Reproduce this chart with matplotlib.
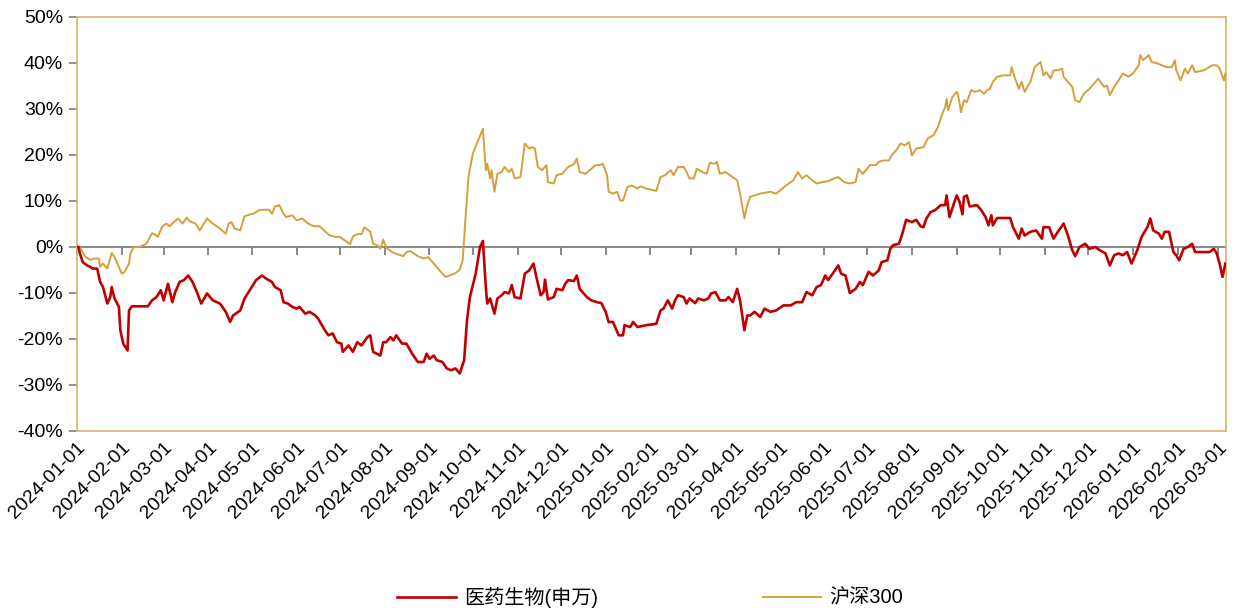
import matplotlib
matplotlib.use("Agg")
import matplotlib.pyplot as plt
from matplotlib.ticker import PercentFormatter, MultipleLocator
import pandas as pd

plt.rcParams['axes.unicode_minus'] = False
plt.rcParams['font.family'] = ['Liberation Sans', 'Noto Sans CJK SC', 'DejaVu Sans']

# cumulative return (%)
hs300 = [
    ("2024-01-02", 0.0), ("2024-01-03", -0.1), ("2024-01-07", -2.2), ("2024-01-10", -2.8),
    ("2024-01-13", -2.5), ("2024-01-16", -2.5), ("2024-01-17", -4.3), ("2024-01-19", -3.6),
    ("2024-01-22", -4.7), ("2024-01-25", -1.3), ("2024-01-27", -2.2), ("2024-01-30", -4.3),
    ("2024-02-01", -5.8), ("2024-02-03", -5.4), ("2024-02-06", -3.6), ("2024-02-07", -1.4),
    ("2024-02-09", -0.1), ("2024-02-14", 0.1), ("2024-02-18", 0.7), ("2024-02-22", 3.0),
    ("2024-02-24", 2.7), ("2024-02-26", 2.2), ("2024-02-29", 4.5), ("2024-03-03", 5.1),
    ("2024-03-05", 4.5), ("2024-03-08", 5.4), ("2024-03-11", 6.2), ("2024-03-14", 5.1),
    ("2024-03-17", 6.4), ("2024-03-19", 5.6), ("2024-03-23", 5.1), ("2024-03-26", 3.6),
    ("2024-03-31", 6.2), ("2024-04-04", 5.1), ("2024-04-09", 4.0), ("2024-04-13", 2.9),
    ("2024-04-15", 5.1), ("2024-04-17", 5.4), ("2024-04-19", 4.0), ("2024-04-23", 3.6),
    ("2024-04-26", 6.7), ("2024-04-30", 7.1), ("2024-05-02", 7.2), ("2024-05-06", 8.0),
    ("2024-05-09", 8.1), ("2024-05-13", 8.1), ("2024-05-15", 7.2), ("2024-05-17", 8.8),
    ("2024-05-20", 9.1), ("2024-05-23", 7.2), ("2024-05-25", 6.5), ("2024-05-29", 6.9),
    ("2024-06-01", 5.8), ("2024-06-05", 6.2), ("2024-06-09", 5.1), ("2024-06-13", 4.5),
    ("2024-06-17", 4.5), ("2024-06-21", 3.3), ("2024-06-24", 2.5), ("2024-06-28", 2.2),
    ("2024-07-01", 2.2), ("2024-07-05", 1.3), ("2024-07-08", 0.6), ("2024-07-10", 2.3),
    ("2024-07-13", 2.8), ("2024-07-16", 2.8), ("2024-07-18", 4.3), ("2024-07-22", 3.3),
    ("2024-07-24", 0.7), ("2024-07-27", 0.4), ("2024-07-29", -0.4), ("2024-07-31", 1.6),
    ("2024-08-02", -0.1), ("2024-08-06", -1.1), ("2024-08-10", -1.6), ("2024-08-14", -2.0),
    ("2024-08-16", -1.1), ("2024-08-19", -0.9), ("2024-08-21", -1.4), ("2024-08-24", -2.0),
    ("2024-08-28", -2.5), ("2024-08-31", -2.2), ("2024-09-04", -3.6), ("2024-09-08", -5.1),
    ("2024-09-12", -6.5), ("2024-09-15", -6.2), ("2024-09-19", -5.7), ("2024-09-22", -4.9),
    ("2024-09-24", -2.9), ("2024-09-26", 6.5), ("2024-09-28", 15.2), ("2024-10-01", 20.3),
    ("2024-10-08", 25.7), ("2024-10-10", 16.7), ("2024-10-11", 18.1), ("2024-10-13", 14.9),
    ("2024-10-14", 16.7), ("2024-10-16", 12.0), ("2024-10-18", 15.9), ("2024-10-21", 16.3),
    ("2024-10-23", 17.4), ("2024-10-26", 16.3), ("2024-10-28", 17.0), ("2024-10-30", 14.9),
    ("2024-11-03", 15.2), ("2024-11-06", 22.5), ("2024-11-09", 21.4), ("2024-11-11", 21.7),
    ("2024-11-13", 21.4), ("2024-11-15", 17.4), ("2024-11-18", 16.7), ("2024-11-21", 17.8),
    ("2024-11-22", 14.1), ("2024-11-26", 13.8), ("2024-11-28", 15.6), ("2024-12-02", 15.9),
    ("2024-12-04", 16.7), ("2024-12-06", 17.4), ("2024-12-10", 18.0), ("2024-12-12", 19.2),
    ("2024-12-14", 16.3), ("2024-12-18", 15.9), ("2024-12-21", 16.7), ("2024-12-25", 17.8),
    ("2024-12-28", 17.8), ("2024-12-30", 18.1), ("2025-01-02", 15.6), ("2025-01-03", 12.0),
    ("2025-01-06", 11.6), ("2025-01-09", 12.0), ("2025-01-11", 10.1), ("2025-01-13", 10.1),
    ("2025-01-16", 13.0), ("2025-01-19", 13.4), ("2025-01-23", 12.7), ("2025-01-25", 13.2),
    ("2025-01-29", 12.7), ("2025-02-05", 12.2), ("2025-02-08", 15.2), ("2025-02-11", 15.6),
    ("2025-02-15", 16.7), ("2025-02-17", 15.6), ("2025-02-20", 17.4), ("2025-02-24", 17.4),
    ("2025-02-26", 16.3), ("2025-02-28", 14.9), ("2025-03-03", 14.9), ("2025-03-05", 17.0),
    ("2025-03-09", 16.3), ("2025-03-12", 15.9), ("2025-03-14", 18.3), ("2025-03-17", 18.1),
    ("2025-03-19", 18.5), ("2025-03-21", 15.9), ("2025-03-25", 16.3), ("2025-03-28", 15.6),
    ("2025-04-02", 14.5), ("2025-04-04", 11.6), ("2025-04-07", 6.2), ("2025-04-09", 9.1),
    ("2025-04-11", 10.9), ("2025-04-18", 11.6), ("2025-04-25", 12.0), ("2025-04-29", 11.6),
    ("2025-05-06", 13.4), ("2025-05-11", 14.5), ("2025-05-14", 16.3), ("2025-05-17", 14.9),
    ("2025-05-20", 15.6), ("2025-05-24", 14.5), ("2025-05-27", 13.8), ("2025-05-31", 14.1),
    ("2025-06-04", 14.3), ("2025-06-08", 14.9), ("2025-06-11", 15.2), ("2025-06-15", 14.1),
    ("2025-06-19", 13.8), ("2025-06-23", 14.1), ("2025-06-25", 17.0), ("2025-06-28", 15.9),
    ("2025-07-03", 17.8), ("2025-07-07", 17.8), ("2025-07-09", 18.5), ("2025-07-12", 18.8),
    ("2025-07-16", 18.8), ("2025-07-18", 19.9), ("2025-07-22", 21.4), ("2025-07-24", 22.5),
    ("2025-07-27", 22.1), ("2025-07-30", 22.8), ("2025-08-01", 19.9), ("2025-08-04", 21.4),
    ("2025-08-09", 21.7), ("2025-08-12", 23.6), ("2025-08-16", 24.3), ("2025-08-19", 26.1),
    ("2025-08-22", 29.0), ("2025-08-24", 30.4), ("2025-08-25", 32.2), ("2025-08-26", 29.7),
    ("2025-08-29", 32.6), ("2025-09-01", 33.7), ("2025-09-02", 33.0), ("2025-09-04", 29.3),
    ("2025-09-06", 31.9), ("2025-09-08", 31.5), ("2025-09-11", 34.1), ("2025-09-14", 33.7),
    ("2025-09-17", 34.1), ("2025-09-20", 33.3), ("2025-09-22", 34.1), ("2025-09-24", 34.4),
    ("2025-09-26", 35.9), ("2025-09-29", 37.0), ("2025-10-03", 37.3), ("2025-10-08", 37.3),
    ("2025-10-09", 39.1), ("2025-10-11", 37.0), ("2025-10-14", 34.4), ("2025-10-16", 35.9),
    ("2025-10-18", 33.7), ("2025-10-22", 35.9), ("2025-10-25", 39.1), ("2025-10-29", 40.2),
    ("2025-10-31", 37.3), ("2025-11-02", 38.0), ("2025-11-05", 36.6), ("2025-11-07", 38.4),
    ("2025-11-10", 38.4), ("2025-11-13", 38.8), ("2025-11-14", 37.0), ("2025-11-17", 35.9),
    ("2025-11-20", 34.8), ("2025-11-22", 31.9), ("2025-11-25", 31.5), ("2025-11-28", 33.3),
    ("2025-12-02", 34.4), ("2025-12-05", 35.5), ("2025-12-08", 36.6), ("2025-12-12", 34.8),
    ("2025-12-14", 35.1), ("2025-12-16", 33.0), ("2025-12-19", 34.8), ("2025-12-22", 36.2),
    ("2025-12-25", 37.7), ("2025-12-29", 37.0), ("2026-01-01", 37.7), ("2026-01-05", 39.5),
    ("2026-01-06", 41.7), ("2026-01-08", 40.6), ("2026-01-12", 41.7), ("2026-01-14", 40.2),
    ("2026-01-18", 39.9), ("2026-01-21", 39.5), ("2026-01-24", 39.1), ("2026-01-28", 39.1),
    ("2026-01-30", 40.6), ("2026-01-31", 38.4), ("2026-02-03", 36.2), ("2026-02-06", 38.8),
    ("2026-02-08", 37.7), ("2026-02-11", 39.5), ("2026-02-13", 38.0), ("2026-02-19", 38.4),
    ("2026-02-25", 39.5), ("2026-02-28", 39.5), ("2026-03-02", 38.8), ("2026-03-05", 36.2),
    ("2026-03-06", 37.7),
]

med = [
    ("2024-01-02", 0.0), ("2024-01-03", -1.4), ("2024-01-05", -3.3), ("2024-01-08", -4.0),
    ("2024-01-10", -4.3), ("2024-01-12", -4.7), ("2024-01-15", -4.7), ("2024-01-17", -7.6),
    ("2024-01-19", -8.7), ("2024-01-22", -12.3), ("2024-01-24", -10.9), ("2024-01-25", -8.7),
    ("2024-01-27", -11.2), ("2024-01-30", -13.0), ("2024-01-31", -18.1), ("2024-02-02", -21.0),
    ("2024-02-05", -22.5), ("2024-02-06", -13.8), ("2024-02-08", -12.9), ("2024-02-19", -12.9),
    ("2024-02-22", -11.6), ("2024-02-25", -10.9), ("2024-02-28", -9.4), ("2024-03-01", -11.6),
    ("2024-03-04", -8.0), ("2024-03-07", -12.0), ("2024-03-09", -9.8), ("2024-03-12", -7.6),
    ("2024-03-15", -7.2), ("2024-03-18", -6.2), ("2024-03-21", -7.6), ("2024-03-24", -9.8),
    ("2024-03-27", -12.3), ("2024-03-31", -10.1), ("2024-04-04", -11.6), ("2024-04-09", -12.3),
    ("2024-04-13", -14.1), ("2024-04-16", -16.3), ("2024-04-18", -14.9), ("2024-04-23", -13.8),
    ("2024-04-26", -11.2), ("2024-05-01", -8.7), ("2024-05-04", -7.2), ("2024-05-08", -6.2),
    ("2024-05-11", -6.9), ("2024-05-15", -7.6), ("2024-05-17", -8.7), ("2024-05-21", -9.4),
    ("2024-05-23", -12.0), ("2024-05-26", -12.3), ("2024-05-29", -13.0), ("2024-06-01", -13.4),
    ("2024-06-03", -13.0), ("2024-06-07", -14.5), ("2024-06-10", -14.1), ("2024-06-14", -14.9),
    ("2024-06-16", -15.6), ("2024-06-20", -17.8), ("2024-06-23", -19.2), ("2024-06-26", -18.8),
    ("2024-06-29", -20.7), ("2024-07-02", -21.0), ("2024-07-03", -22.8), ("2024-07-07", -21.4),
    ("2024-07-10", -22.8), ("2024-07-13", -20.7), ("2024-07-16", -21.4), ("2024-07-20", -19.6),
    ("2024-07-22", -19.2), ("2024-07-24", -22.8), ("2024-07-29", -23.6), ("2024-07-31", -20.7),
    ("2024-08-02", -20.7), ("2024-08-05", -19.6), ("2024-08-07", -20.3), ("2024-08-09", -19.2),
    ("2024-08-13", -21.0), ("2024-08-16", -21.0), ("2024-08-20", -23.2), ("2024-08-24", -25.0),
    ("2024-08-28", -25.0), ("2024-08-30", -23.2), ("2024-09-01", -24.3), ("2024-09-04", -23.6),
    ("2024-09-06", -24.6), ("2024-09-10", -25.0), ("2024-09-13", -26.4), ("2024-09-16", -26.8),
    ("2024-09-19", -26.4), ("2024-09-22", -27.5), ("2024-09-25", -24.6), ("2024-09-27", -15.9),
    ("2024-09-29", -10.9), ("2024-10-03", -5.8), ("2024-10-06", 0.0), ("2024-10-08", 1.3),
    ("2024-10-10", -8.7), ("2024-10-11", -12.3), ("2024-10-13", -11.2), ("2024-10-16", -14.5),
    ("2024-10-18", -11.2), ("2024-10-21", -10.5), ("2024-10-23", -9.8), ("2024-10-26", -10.1),
    ("2024-10-28", -8.3), ("2024-10-30", -10.9), ("2024-11-03", -11.2), ("2024-11-06", -5.8),
    ("2024-11-09", -5.1), ("2024-11-12", -3.6), ("2024-11-14", -6.5), ("2024-11-17", -10.5),
    ("2024-11-19", -9.8), ("2024-11-20", -7.1), ("2024-11-22", -11.4), ("2024-11-26", -10.9),
    ("2024-11-28", -9.1), ("2024-12-02", -9.4), ("2024-12-04", -8.0), ("2024-12-06", -7.2),
    ("2024-12-10", -7.4), ("2024-12-12", -6.2), ("2024-12-14", -9.1), ("2024-12-19", -10.9),
    ("2024-12-22", -11.6), ("2024-12-26", -12.0), ("2024-12-29", -12.2), ("2025-01-01", -14.1),
    ("2025-01-03", -16.3), ("2025-01-06", -16.3), ("2025-01-10", -19.2), ("2025-01-13", -19.2),
    ("2025-01-14", -17.0), ("2025-01-18", -17.4), ("2025-01-20", -16.3), ("2025-01-23", -17.4),
    ("2025-01-29", -17.0), ("2025-02-05", -16.7), ("2025-02-08", -13.8), ("2025-02-10", -13.4),
    ("2025-02-13", -11.6), ("2025-02-16", -13.4), ("2025-02-18", -11.6), ("2025-02-20", -10.5),
    ("2025-02-24", -10.9), ("2025-02-26", -12.3), ("2025-02-28", -11.2), ("2025-03-04", -12.2),
    ("2025-03-06", -11.2), ("2025-03-10", -11.6), ("2025-03-13", -11.2), ("2025-03-15", -10.1),
    ("2025-03-18", -9.8), ("2025-03-21", -11.6), ("2025-03-25", -11.6), ("2025-03-27", -10.9),
    ("2025-03-30", -12.0), ("2025-04-02", -9.1), ("2025-04-04", -11.6), ("2025-04-07", -18.1),
    ("2025-04-09", -14.9), ("2025-04-11", -14.9), ("2025-04-14", -14.1), ("2025-04-18", -15.2),
    ("2025-04-21", -13.4), ("2025-04-25", -14.1), ("2025-04-29", -13.8), ("2025-05-04", -12.7),
    ("2025-05-09", -12.7), ("2025-05-13", -12.0), ("2025-05-17", -12.0), ("2025-05-20", -9.8),
    ("2025-05-24", -10.5), ("2025-05-27", -8.7), ("2025-05-30", -8.3), ("2025-06-02", -6.2),
    ("2025-06-04", -7.2), ("2025-06-08", -5.4), ("2025-06-11", -4.0), ("2025-06-13", -5.8),
    ("2025-06-16", -6.2), ("2025-06-19", -10.0), ("2025-06-23", -9.1), ("2025-06-26", -7.6),
    ("2025-06-28", -8.3), ("2025-07-02", -5.4), ("2025-07-05", -6.2), ("2025-07-09", -5.1),
    ("2025-07-11", -3.3), ("2025-07-15", -2.9), ("2025-07-17", -0.4), ("2025-07-19", 0.4),
    ("2025-07-23", 0.7), ("2025-07-25", 2.5), ("2025-07-28", 5.9), ("2025-08-01", 5.4),
    ("2025-08-04", 5.9), ("2025-08-07", 4.5), ("2025-08-09", 4.3), ("2025-08-11", 6.2),
    ("2025-08-14", 7.6), ("2025-08-17", 8.0), ("2025-08-21", 9.1), ("2025-08-24", 9.1),
    ("2025-08-25", 11.2), ("2025-08-27", 6.5), ("2025-08-30", 9.4), ("2025-09-01", 11.2),
    ("2025-09-03", 9.8), ("2025-09-05", 7.1), ("2025-09-06", 10.9), ("2025-09-08", 11.2),
    ("2025-09-10", 8.8), ("2025-09-15", 9.1), ("2025-09-18", 8.0), ("2025-09-21", 6.5),
    ("2025-09-23", 4.7), ("2025-09-25", 6.9), ("2025-09-26", 4.7), ("2025-09-29", 6.3),
    ("2025-10-08", 6.3), ("2025-10-10", 4.3), ("2025-10-14", 1.8), ("2025-10-16", 4.0),
    ("2025-10-18", 2.5), ("2025-10-22", 3.3), ("2025-10-26", 3.6), ("2025-10-30", 1.8),
    ("2025-10-31", 4.3), ("2025-11-04", 4.3), ("2025-11-07", 1.8), ("2025-11-10", 3.3),
    ("2025-11-14", 5.1), ("2025-11-17", 2.5), ("2025-11-20", -0.7), ("2025-11-22", -2.0),
    ("2025-11-25", 0.0), ("2025-11-29", 0.7), ("2025-12-02", -0.4), ("2025-12-06", 0.0),
    ("2025-12-09", -0.7), ("2025-12-13", -1.4), ("2025-12-16", -4.0), ("2025-12-19", -1.8),
    ("2025-12-22", -1.4), ("2025-12-25", -1.8), ("2025-12-28", -1.1), ("2025-12-31", -3.6),
    ("2026-01-04", -0.7), ("2026-01-07", 2.2), ("2026-01-11", 4.3), ("2026-01-13", 6.2),
    ("2026-01-15", 3.6), ("2026-01-19", 2.9), ("2026-01-21", 1.8), ("2026-01-23", 3.3),
    ("2026-01-26", 3.3), ("2026-01-29", -1.1), ("2026-01-31", -1.8), ("2026-02-02", -2.9),
    ("2026-02-05", -0.4), ("2026-02-08", 0.0), ("2026-02-11", 0.7), ("2026-02-13", -1.1),
    ("2026-02-19", -1.1), ("2026-02-23", -1.1), ("2026-02-26", -0.4), ("2026-02-28", -1.4),
    ("2026-03-02", -3.6), ("2026-03-04", -6.5), ("2026-03-06", -3.6),
]

series_names = ["医药生物(申万)", "沪深300"]
series_colors = ["#C00000", "#D4A03C"]
month_ticks = pd.date_range("2024-01-01", "2026-03-01", freq="MS")
ylims = (-40, 50)

med_df = pd.DataFrame(med, columns=["date", "val"])
hs_df = pd.DataFrame(hs300, columns=["date", "val"])
med_df["date"] = pd.to_datetime(med_df["date"])
hs_df["date"] = pd.to_datetime(hs_df["date"])

fig = plt.figure(figsize=(12.36, 6.15), dpi=100)
ax = fig.add_axes([0.0623, 0.2992, 0.9297, 0.6732])

ax.plot(med_df["date"], med_df["val"], color=series_colors[0], lw=1.9,
        label=series_names[0], zorder=4)
ax.plot(hs_df["date"], hs_df["val"], color=series_colors[1], lw=1.4,
        label=series_names[1], zorder=3)

ax.set_xlim(pd.Timestamp("2024-01-01"), pd.Timestamp("2026-03-06 12:00"))
ax.set_ylim(*ylims)
ax.yaxis.set_major_locator(MultipleLocator(10))
ax.yaxis.set_major_formatter(PercentFormatter(decimals=0))

frame_col = "#D8B46A"
for s in ax.spines.values():
    s.set_color(frame_col)
    s.set_linewidth(1.2)

ax.tick_params(axis="y", direction="out", length=6, width=1.2, color="#808080",
               labelsize=14, pad=4)

# date labels below the frame, tick marks sit on the zero line
ax.set_xticks(month_ticks)
ax.set_xticklabels([d.strftime("%Y-%m-%d") for d in month_ticks],
                   rotation=45, ha="right", rotation_mode="anchor")
ax.tick_params(axis="x", length=0, labelsize=14, pad=6)

zero_pos = (0 - ylims[0]) / (ylims[1] - ylims[0])
sec = ax.secondary_xaxis(zero_pos)
sec.set_xticks(month_ticks)
sec.set_xticklabels([])
sec.spines["bottom"].set_color("#808080")
sec.spines["bottom"].set_linewidth(1.3)
sec.tick_params(axis="x", direction="out", length=6, width=1.3, color="#808080")

fig.legend(loc="center", bbox_to_anchor=(0.526, 0.029), ncol=2, frameon=False,
           fontsize=14.5, handlelength=2.9, handletextpad=0.4, columnspacing=8.2)

fig.savefig("out.png", dpi=100)
